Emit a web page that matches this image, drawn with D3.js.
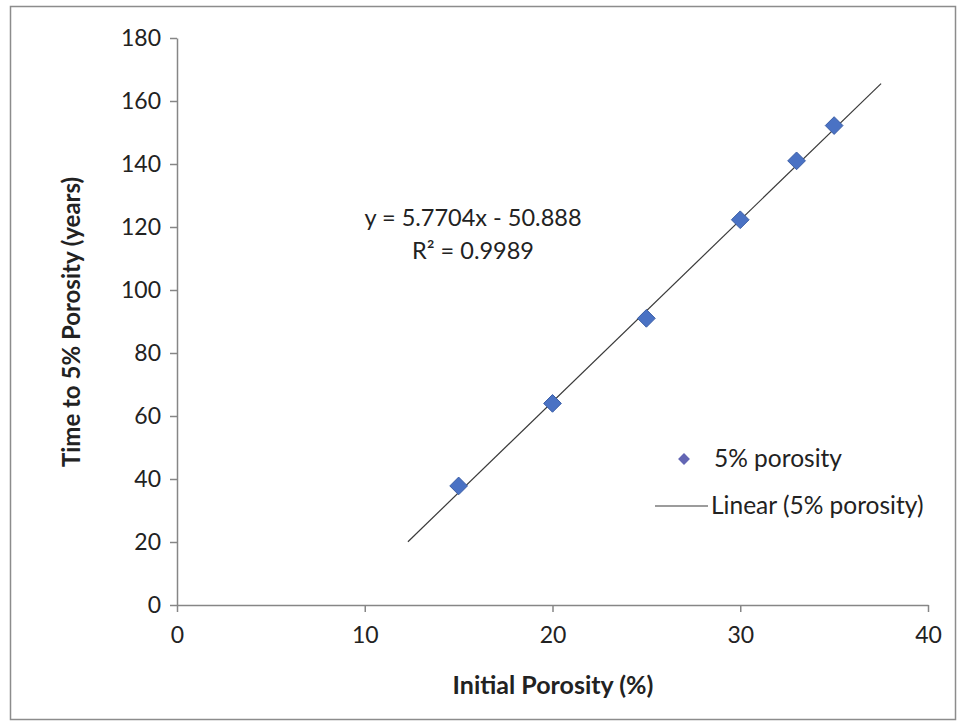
<!DOCTYPE html>
<html>
<head>
<meta charset="utf-8">
<script src="https://cdn.jsdelivr.net/npm/d3@7"></script>
<style>
  body { margin: 0; background: #fff; }
  text { font-family: Lato, "Open Sans", sans-serif; fill: #222; }
</style>
</head>
<body>
<div class="chart"></div>
<script>
let width = 963;
let height = 726;

// data
let porosity = [15, 20, 25, 30, 33, 35];
let years = [37.8, 64, 91, 122.3, 141, 152.2];
let slope = 5.7704;
let intercept = -50.888;
let fitRange = [12.3, 37.5];
let xTicks = [0, 10, 20, 30, 40];
let yTicks = [0, 20, 40, 60, 80, 100, 120, 140, 160, 180];

let svg = d3.select('.chart')
  .append('svg')
  .attr('width', width)
  .attr('height', height);

// outer frame
svg.append('rect')
  .attr('x', 10.5).attr('y', 6.5)
  .attr('width', 945).attr('height', 713)
  .attr('fill', 'none')
  .attr('stroke', '#8c8c8c')
  .attr('stroke-width', 1.5);

let xScale = d3.scaleLinear().domain([0, 40]).range([177, 928]);
let yScale = d3.scaleLinear().domain([0, 180]).range([605, 38]);

let xAxis = d3.axisBottom(xScale).tickValues(xTicks).tickSize(7).tickSizeOuter(0).tickPadding(9);
let yAxis = d3.axisLeft(yScale).tickValues(yTicks).tickSize(7).tickSizeOuter(0).tickPadding(9);

let gx = svg.append('g')
  .attr('transform', 'translate(0,' + yScale(0) + ')')
  .call(xAxis);
let gy = svg.append('g')
  .attr('transform', 'translate(' + xScale(0) + ',0)')
  .call(yAxis);

[gx, gy].forEach(g => {
  g.select('.domain').attr('stroke', '#868686').attr('stroke-width', 1.5);
  g.selectAll('.tick line').attr('stroke', '#868686').attr('stroke-width', 1.5);
  g.selectAll('.tick text')
    .style('font-family', 'Lato, "Open Sans", sans-serif')
    .style('font-size', '23px')
    .attr('fill', '#222');
});
gx.selectAll('.tick text').attr('dy', '0.95em');
gy.selectAll('.tick text').attr('dy', '0.34em');

// axis titles
svg.append('text')
  .attr('x', 553).attr('y', 694)
  .attr('text-anchor', 'middle')
  .style('font-size', '25px')
  .style('font-weight', 'bold')
  .text('Initial Porosity (%)');
svg.append('text')
  .attr('transform', 'translate(80,322) rotate(-90)')
  .attr('text-anchor', 'middle')
  .style('font-size', '24px')
  .style('font-weight', 'bold')
  .text('Time to 5% Porosity (years)');

// trend line
let line = d3.line()
  .x(d => xScale(d))
  .y(d => yScale(slope * d + intercept));
svg.append('path')
  .datum(fitRange)
  .attr('d', line)
  .attr('fill', 'none')
  .attr('stroke', '#3a3a3a')
  .attr('stroke-width', 1.2);

// points
let diamond = d3.symbol().type(d3.symbolDiamond2).size(200);
svg.selectAll('.pt')
  .data(porosity)
  .enter()
  .append('path')
  .attr('class', 'pt')
  .attr('d', diamond)
  .attr('transform', (d, i) => 'translate(' + xScale(d) + ',' + yScale(years[i]) + ')')
  .attr('fill', '#4a72c4')
  .attr('stroke', '#3b5ea6')
  .attr('stroke-width', 1);

// equation
svg.append('text')
  .attr('x', 473).attr('y', 226)
  .attr('text-anchor', 'middle')
  .style('font-size', '23.5px')
  .text('y = 5.7704x - 50.888');
svg.append('text')
  .attr('x', 473).attr('y', 259)
  .attr('text-anchor', 'middle')
  .style('font-size', '23.5px')
  .text('R² = 0.9989');

// legend
let legend = svg.append('g').attr('id', 'legend');
legend.append('path')
  .attr('d', d3.symbol().type(d3.symbolDiamond2).size(90))
  .attr('transform', 'translate(684,459)')
  .attr('fill', '#6366b4');
legend.append('text')
  .attr('x', 714).attr('y', 467)
  .style('font-size', '24.5px')
  .text('5% porosity');
legend.append('line')
  .attr('x1', 655).attr('x2', 708)
  .attr('y1', 506).attr('y2', 506)
  .attr('stroke', '#3a3a3a')
  .attr('stroke-width', 1.2);
legend.append('text')
  .attr('x', 711).attr('y', 514)
  .style('font-size', '24.5px')
  .text('Linear (5% porosity)');
</script>
</body>
</html>
